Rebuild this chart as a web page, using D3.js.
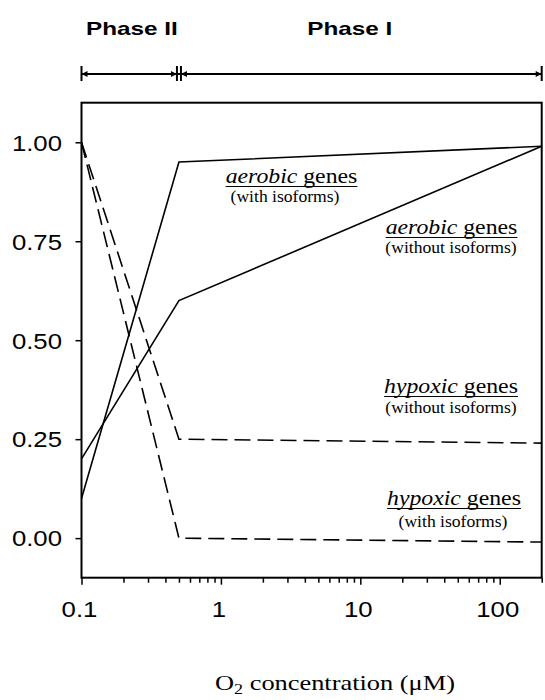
<!DOCTYPE html>
<html>
<head>
<meta charset="utf-8">
<script src="https://cdn.jsdelivr.net/npm/d3@7"></script>
<style>
  body { margin: 0; background: #fff; }
  svg { display: block; }
</style>
</head>
<body>
<svg id="chart" width="545" height="700"></svg>
<script>
// O2 concentration (µM) at the curve breakpoints
const o2 = [0.1, 0.5, 200];
// relative expression of each gene class
const aerobicWith = [0.10, 0.95, 0.99];
const aerobicWithout = [0.20, 0.60, 0.99];
const hypoxicWithout = [1.00, 0.25, 0.24];
const hypoxicWith = [1.00, 0.00, -0.01];

const yTicks = [0, 0.25, 0.5, 0.75, 1.0];
const xTicks = [0.1, 1, 10, 100];
const xTickLabels = ["0.1", "1", "10", "100"];

// phase ranges along the O2 axis
const phaseNames = ["Phase II", "Phase I"];
const phaseStart = [0.1, 0.5];
const phaseEnd = [0.5, 200];
const phaseLabelAt = [0.23, 8.4];

const annoTitle = ["aerobic", "aerobic", "hypoxic", "hypoxic"];
const annoSub = ["(with isoforms)", "(without isoforms)", "(without isoforms)", "(with isoforms)"];

const svg = d3.select("#chart");
const box = { left: 81.5, right: 541.7, top: 102.7, bottom: 577.7 };

const x = d3.scaleLog().domain([0.1, 200]).range([box.left, box.right]);
const y = d3.scaleLinear().domain([-0.1, 1.1]).range([box.bottom, box.top]);

const sans = "'Liberation Sans', Arial, Helvetica, sans-serif";
const serif = "'Liberation Serif', 'Times New Roman', Times, serif";

// text placed at (px,py), stretched horizontally by sx
function stretchedText(px, py, sx, anchor) {
  const g = svg.append("g").attr("transform", `translate(${px},${py}) scale(${sx},1)`);
  const t = g.append("text").attr("x", 0).attr("y", 0).attr("text-anchor", anchor);
  return { g, t };
}

// ---- frame ----
svg.append("rect")
  .attr("x", box.left).attr("y", box.top)
  .attr("width", box.right - box.left).attr("height", box.bottom - box.top)
  .attr("fill", "none").attr("stroke", "#000").attr("stroke-width", 2);

// ---- y axis ----
const yAxis = d3.axisLeft(y).tickValues(yTicks).tickSize(6).tickFormat("");
const gy = svg.append("g").attr("transform", `translate(${box.left},0)`).call(yAxis);
gy.select(".domain").remove();
gy.selectAll(".tick line").attr("stroke", "#000").attr("stroke-width", 1.5);

yTicks.forEach(v => {
  const { t } = stretchedText(62, y(v) + 8.3, 1.12, "end");
  t.text(d3.format(".2f")(v))
    .attr("font-family", sans).attr("font-size", 23).attr("fill", "#000");
});

// ---- x axis (log, with minor ticks) ----
const minor = x.ticks().filter(v => !xTicks.includes(v));
const gxMinor = svg.append("g").attr("transform", `translate(0,${box.bottom})`)
  .call(d3.axisBottom(x).tickValues(minor).tickSize(5).tickFormat(""));
const gxMajor = svg.append("g").attr("transform", `translate(0,${box.bottom})`)
  .call(d3.axisBottom(x).tickValues(xTicks).tickSize(7).tickFormat(""));
[gxMinor, gxMajor].forEach(g => {
  g.select(".domain").remove();
  g.selectAll(".tick line").attr("stroke", "#000").attr("stroke-width", 1.5);
});

xTicks.forEach((v, i) => {
  const { t } = stretchedText(x(v) - 2, 617, 1.12, "middle");
  t.text(xTickLabels[i])
    .attr("font-family", sans).attr("font-size", 23).attr("fill", "#000");
});

// x axis title with subscript
{
  const { t } = stretchedText(335, 690, 1.2, "middle");
  t.attr("font-family", serif).attr("font-size", 22).attr("fill", "#000");
  t.append("tspan").text("O");
  t.append("tspan").attr("font-size", 15).attr("dy", 4).text("2");
  t.append("tspan").attr("dy", -4).text(" concentration (\u03bcM)");
}

// ---- curves ----
const line = d3.line().x(d => x(d[0])).y(d => y(d[1]));
const series = [
  { values: aerobicWith, dash: null },
  { values: aerobicWithout, dash: null },
  { values: hypoxicWithout, dash: "16,7" },
  { values: hypoxicWith, dash: "16,7" }
];
series.forEach(s => {
  svg.append("path")
    .datum(o2.map((c, i) => [c, s.values[i]]))
    .attr("d", line)
    .attr("fill", "none")
    .attr("stroke", "#000")
    .attr("stroke-width", 1.6)
    .attr("stroke-dasharray", s.dash);
});

// ---- curve annotations ----
const annoLayout = [
  { tx: 291.5, ty: 183, sx: 285, sy: 202 },
  { tx: 451.5, ty: 234, sx: 451, sy: 253 },
  { tx: 451, ty: 393, sx: 451, sy: 413 },
  { tx: 454, ty: 505, sx: 453, sy: 527 }
];
annoTitle.forEach((word, i) => {
  const L = annoLayout[i];
  const { g, t } = stretchedText(L.tx, L.ty, 1.08, "middle");
  t.attr("font-family", serif).attr("font-size", 22).attr("fill", "#000");
  t.append("tspan").attr("font-style", "italic").text(word);
  t.append("tspan").text(" genes");
  const bb = t.node().getBBox();
  g.append("line")
    .attr("x1", bb.x).attr("x2", bb.x + bb.width)
    .attr("y1", 3.5).attr("y2", 3.5)
    .attr("stroke", "#000").attr("stroke-width", 1.2);

  const sub = stretchedText(L.sx, L.sy, 1.1, "middle");
  sub.t.text(annoSub[i])
    .attr("font-family", serif).attr("font-size", 16).attr("fill", "#000");
});

// ---- phase bar ----
const barY = 74;
const bar = svg.append("g");
bar.append("line")
  .attr("x1", x(phaseStart[0])).attr("x2", x(phaseEnd[1]))
  .attr("y1", barY).attr("y2", barY)
  .attr("stroke", "#000").attr("stroke-width", 2);

function arrowHead(tipX, dir) {
  // small filled triangle pointing in direction dir (-1 left, +1 right)
  const len = 6, half = 3;
  bar.append("path")
    .attr("d", `M${tipX},${barY} L${tipX - dir * len},${barY - half} L${tipX - dir * len},${barY + half} Z`)
    .attr("fill", "#000");
}
function barTick(px, y0, y1) {
  bar.append("line")
    .attr("x1", px).attr("x2", px).attr("y1", y0).attr("y2", y1)
    .attr("stroke", "#000").attr("stroke-width", 2);
}

phaseStart.forEach((s, i) => {
  const x0 = x(s), x1 = x(phaseEnd[i]);
  const inset = 2;
  barTick(i === 0 ? x0 : x0 + inset, 66, 81);
  barTick(i === 0 ? x1 - inset : x1, 66, 81);
  arrowHead((i === 0 ? x0 : x0 + inset), -1);
  arrowHead((i === 0 ? x1 - inset : x1), 1);

  const { t } = stretchedText(x(phaseLabelAt[i]), 35, 1.35, "middle");
  t.text(phaseNames[i])
    .attr("font-family", sans).attr("font-weight", "bold")
    .attr("font-size", 18).attr("fill", "#000");
});
</script>
</body>
</html>
